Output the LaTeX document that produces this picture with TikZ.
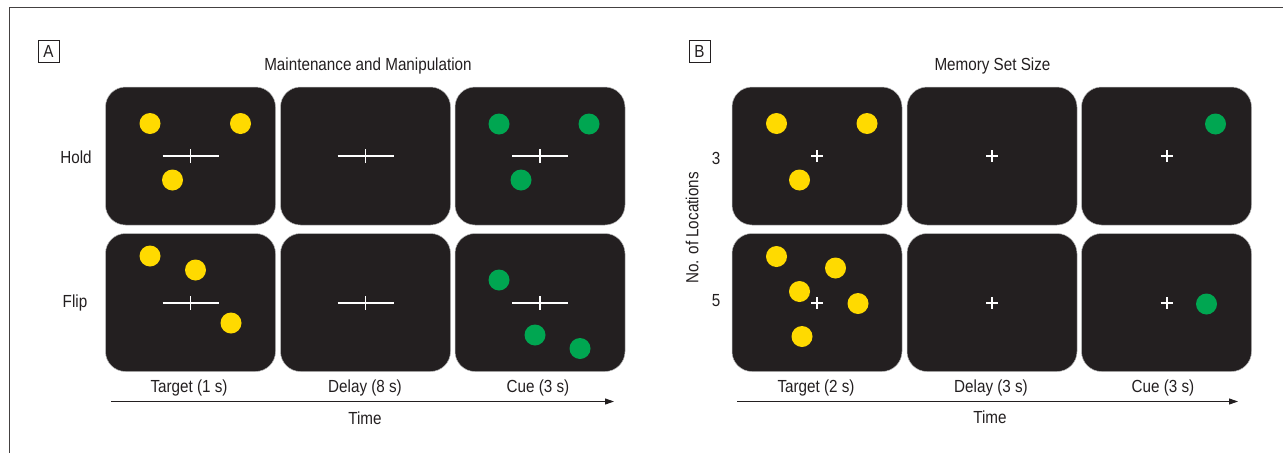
\documentclass[tikz,border=0pt]{standalone}
\usepackage{fontspec}
\setmainfont{Liberation Sans}[FakeStretch=0.87]
\usetikzlibrary{arrows.meta}
\definecolor{panelc}{HTML}{231F20}
\definecolor{ydotc}{HTML}{FFDA00}
\definecolor{gdotc}{HTML}{00A651}
\definecolor{inkc}{HTML}{231F20}
\begin{document}
\begin{tikzpicture}[x=1pt,y=-1pt,
  screen/.style={fill=panelc, draw=gray!55, line width=0.5pt, rounded corners=20pt,
    minimum width=170pt, minimum height=138pt, inner sep=0pt},
  ydot/.style={circle, fill=ydotc, minimum size=21pt, inner sep=0pt},
  gdot/.style={circle, fill=gdotc, minimum size=21pt, inner sep=0pt},
  fix/.style={white, line width=2pt},
  lbl/.style={text=inkc, inner sep=0pt, font=\fontsize{17.5}{20}\selectfont},
  letterbox/.style={lbl, draw=inkc, line width=0.6pt, minimum width=21pt, minimum height=22pt},
  axis/.style={draw=inkc, line width=0.9pt, -{Triangle[length=9pt,width=6pt]}},
  border/.style={draw=inkc!85, line width=1pt}
]
\useasboundingbox (0,0) rectangle (1283,453);
\draw[border] (1283,7) -- (9,7) -- (9,453);

% ---------- Panel A ----------
\node[letterbox] (labA) at (48.5,51) {A};
\node[lbl] (titleA) at (368,66) {Maintenance and Manipulation};
\node[lbl] (hold) at (76,157) {Hold};
\node[lbl] (flip) at (75,303) {Flip};

\node[screen] (a11) at (190.5,156) {};
\node[screen] (a12) at (365.5,156) {};
\node[screen] (a13) at (540,156) {};
\node[screen] (a21) at (190.5,302.5) {};
\node[screen] (a22) at (365.5,302.5) {};
\node[screen] (a23) at (540,302.5) {};

\foreach \p in {a11,a12,a13,a21,a22,a23}{
  \draw[fix] ([xshift=-28pt]\p.center) -- ([xshift=28pt]\p.center);
  \draw[fix,line width=1.8pt] ([yshift=-7pt]\p.center) -- ([yshift=7pt]\p.center);
}

\node[ydot] (ya1) at (150,123.5) {};
\node[ydot] (ya2) at (240.5,123.5) {};
\node[ydot] (ya3) at (172.5,180) {};
\node[gdot] (ga1) at (499,124) {};
\node[gdot] (ga2) at (589,124) {};
\node[gdot] (ga3) at (521,180) {};

\node[ydot] (yb1) at (150,256) {};
\node[ydot] (yb2) at (195.5,270) {};
\node[ydot] (yb3) at (231,323) {};
\node[gdot] (gb1) at (499,280) {};
\node[gdot] (gb2) at (535,335) {};
\node[gdot] (gb3) at (580,348.5) {};

\node[lbl] (tA1) at (189,388) {Target (1 s)};
\node[lbl] (tA2) at (365,388) {Delay (8 s)};
\node[lbl] (tA3) at (538,388) {Cue (3 s)};
\coordinate (axA0) at (111,401.5);
\coordinate (axA1) at (614,401.5);
\draw[axis] (axA0) -- (axA1);
\node[lbl] (timeA) at (365,418) {Time};

% ---------- Panel B ----------
\node[letterbox] (labB) at (699.5,51.5) {B};
\node[lbl] (titleB) at (992.5,66) {Memory Set Size};
\node[lbl, rotate=90] (nloc) at (692,228) {No. of Locations};
\node[lbl] (n3) at (716,158) {3};
\node[lbl] (n5) at (716,301) {5};

\node[screen] (b11) at (817,156) {};
\node[screen] (b12) at (992,156) {};
\node[screen] (b13) at (1166.5,156) {};
\node[screen] (b21) at (817,302.5) {};
\node[screen] (b22) at (992,302.5) {};
\node[screen] (b23) at (1166.5,302.5) {};

\foreach \p in {b11,b12,b13,b21,b22,b23}{
  \draw[fix] ([xshift=-6pt]\p.center) -- ([xshift=6pt]\p.center);
  \draw[fix] ([yshift=-6pt]\p.center) -- ([yshift=6pt]\p.center);
}

\node[ydot] (yc1) at (776.5,123.5) {};
\node[ydot] (yc2) at (867,123.5) {};
\node[ydot] (yc3) at (799.5,180) {};
\node[gdot] (gc1) at (1215.5,124) {};

\node[ydot] (yd1) at (776.5,256.5) {};
\node[ydot] (yd2) at (835.5,268) {};
\node[ydot] (yd3) at (799.5,291.5) {};
\node[ydot] (yd4) at (858,303.5) {};
\node[ydot] (yd5) at (802,336.5) {};
\node[gdot] (gd1) at (1206.5,304) {};

\node[lbl] (tB1) at (816,388) {Target (2 s)};
\node[lbl] (tB2) at (991,388) {Delay (3 s)};
\node[lbl] (tB3) at (1163,388) {Cue (3 s)};
\coordinate (axB0) at (737,401.5);
\coordinate (axB1) at (1238,401.5);
\draw[axis] (axB0) -- (axB1);
\node[lbl] (timeB) at (990,417) {Time};
\end{tikzpicture}
\end{document}
